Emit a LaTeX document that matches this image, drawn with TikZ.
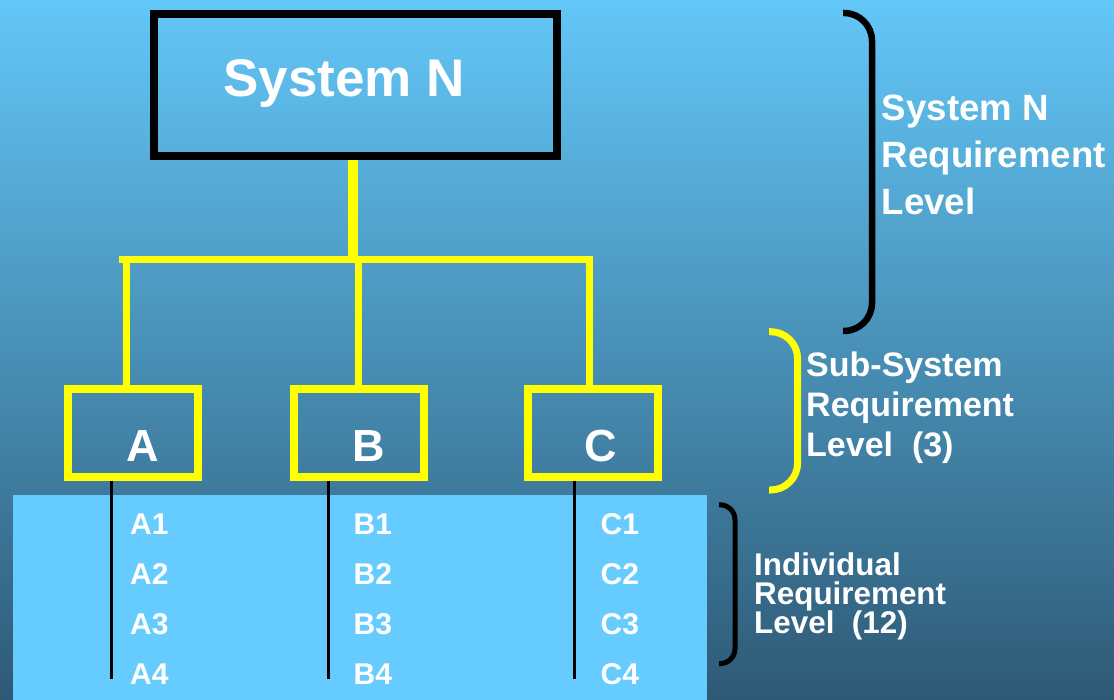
\documentclass[tikz,border=0pt]{standalone}
\usepackage{fontspec}
\setmainfont{Liberation Sans}
\definecolor{bgtop}{RGB}{99,199,248}
\definecolor{bgmid}{RGB}{74,150,190}
\definecolor{bgbot}{RGB}{46,89,117}
\definecolor{lightbox}{RGB}{102,204,255}
\definecolor{yel}{RGB}{255,255,0}
\begin{document}
\setlength{\lineskiplimit}{-50pt}
\begin{tikzpicture}[x=1pt,y=-1pt,
  sysbox/.style={draw=black,line width=8pt,minimum width=403pt,minimum height=142pt,inner sep=0pt},
  subbox/.style={draw=yel,line width=8pt,minimum width=130pt,minimum height=87pt,inner sep=0pt},
  ytree/.style={draw=yel,line width=7pt},
  blk/.style={draw=black,line width=3pt},
  lbl/.style={text=white,font=\bfseries\fontsize{#1}{#1}\selectfont,inner sep=0pt,anchor=base},
  item/.style={text=white,font=\bfseries\fontsize{30}{30}\selectfont,inner sep=0pt,anchor=base west},
  side/.style={text=white,align=left,inner sep=0pt,anchor=north west},
  brace/.style={line cap=butt,line join=round}
]
\useasboundingbox (0,0) rectangle (1114,700);
\shade[top color=bgtop, middle color=bgmid, bottom color=bgbot] (0,0) rectangle (1114,700);
\fill[lightbox] (13,495) rectangle (707,700);

% system box
\node[sysbox] (sys) at (355.5,85) {};
\node[lbl=53] (systxt) at (344,97) {System N};

% sub-system boxes
\node[subbox] (A) at (133,433) {};
\node[subbox] (B) at (358.7,433) {};
\node[subbox] (C) at (592.7,433) {};
\node[lbl=45] (Atxt) at (143,461.7) {A};
\node[lbl=45] (Btxt) at (368.5,461.7) {B};
\node[lbl=45] (Ctxt) at (600.8,461.7) {C};

% yellow tree
\coordinate (drop) at (352.7,260);
\coordinate (busL) at (118.6,260);
\coordinate (busR) at (585.5,260);
\draw[ytree,line width=10pt] (drop |- sys.south) -- (drop);
\draw[ytree] (busL) -- (busR);
\draw[ytree] ([xshift=-7pt]A.north) -- ([xshift=-7pt]A.north |- busL);
\draw[ytree] (B.north) -- (B.north |- busL);
\draw[ytree] ([xshift=-3.7pt]C.north) -- ([xshift=-3.7pt,yshift=3.5pt]C.north |- busR);

% black item lines
\coordinate (Aend) at (111,679);
\coordinate (Bend) at (328,679);
\coordinate (Cend) at (574,679);
\draw[blk] (Aend |- A.south) -- (Aend);
\draw[blk] (Bend |- B.south) -- (Bend);
\draw[blk] (Cend |- C.south) -- (Cend);

% items
\node[item] (a1) at (130,534.3) {A1};
\node[item] (a2) at (130,584.3) {A2};
\node[item] (a3) at (130,634.3) {A3};
\node[item] (a4) at (130,684.3) {A4};
\node[item] (b1) at (353.5,534.3) {B1};
\node[item] (b2) at (353.5,584.3) {B2};
\node[item] (b3) at (353.5,634.3) {B3};
\node[item] (b4) at (353.5,684.3) {B4};
\node[item] (c1) at (600.5,534.3) {C1};
\node[item] (c2) at (600.5,584.3) {C2};
\node[item] (c3) at (600.5,634.3) {C3};
\node[item] (c4) at (600.5,684.3) {C4};

% brackets
\draw[brace,line width=6.5pt,rounded corners=28pt] (843,13) -- (872,13) -- (872,331) -- (843,331);
\draw[brace,draw=yel,line width=7pt,rounded corners=27pt] (769,331.7) -- (797.6,331.7) -- (797.6,490) -- (769,490);
\draw[brace,line width=5pt,rounded corners=15pt] (719,504.8) -- (735,504.8) -- (735,663.6) -- (719,663.6);

% side labels
\node[side,font=\bfseries\fontsize{36.6}{47}\selectfont] (lvlN) at (881.7,94.5) {System N\\Requirement\\Level};
\node[side,font=\bfseries\fontsize{34}{40}\selectfont] (lvlS) at (806,352) {Sub-System\\Requirement\\Level\ \ (3)};
\node[side,font=\bfseries\fontsize{31.4}{29}\selectfont] (lvlI) at (754,552.5) {Individual\\Requirement\\Level\ \ (12)};
\end{tikzpicture}
\end{document}
